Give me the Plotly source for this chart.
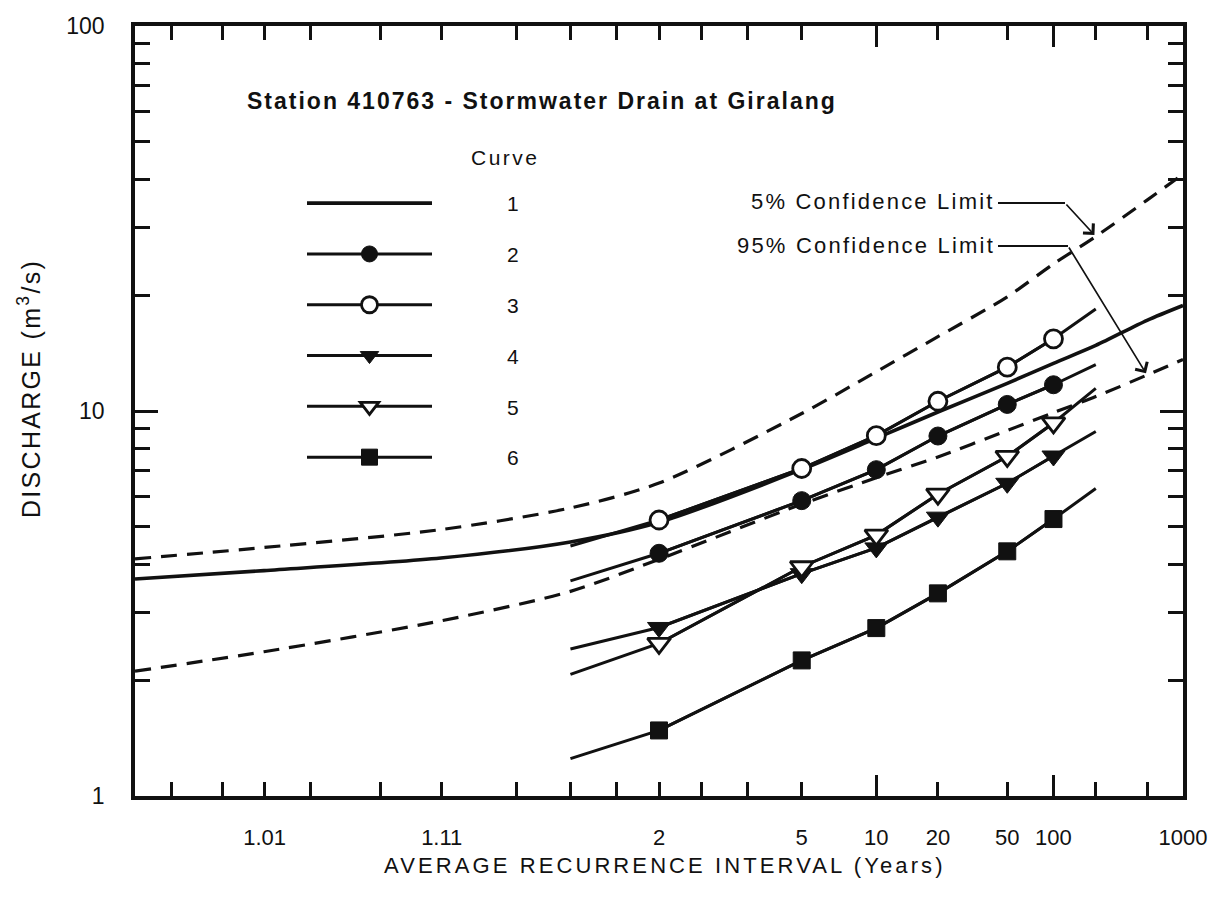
from statistics import NormalDist
import math
import plotly.graph_objects as go

# ---------------------------------------------------------------- data
# Average recurrence intervals (years) at which the fitted curve and its
# confidence limits are given
fit_ari = [1.001, 1.01, 1.11, 1.43, 2, 5, 10, 20, 50, 100, 200, 500, 1000]
curve1 = [3.66, 3.85, 4.15, 4.57, 5.14, 7.05, 8.5, 9.94, 11.8, 13.3, 14.8, 17.2, 18.8]
upper_5pct = [4.13, 4.42, 4.92, 5.6, 6.5, 9.85, 12.65, 15.6, 19.8, 24.1, 28.4, 35.3, 41.2]
lower_95pct = [2.11, 2.37, 2.85, 3.40, 4.12, 5.73, 6.71, 7.6, 8.9, 9.9, 10.9, 12.4, 13.6]

# Curves 2-6: lines run from 1.43 to 200 years, symbols at 2-100 years
est_ari = [1.43, 2, 5, 10, 20, 50, 100, 200]
curve2 = [3.62, 4.27, 5.85, 7.04, 8.61, 10.4, 11.7, 13.2]
curve3 = [4.46, 5.21, 7.09, 8.63, 10.6, 13.0, 15.4, 18.4]
curve4 = [2.41, 2.74, 3.78, 4.41, 5.30, 6.49, 7.64, 8.85]
curve5 = [2.07, 2.49, 3.94, 4.76, 6.08, 7.62, 9.31, 11.45]
curve6 = [1.25, 1.48, 2.25, 2.73, 3.36, 4.32, 5.24, 6.29]

curve_labels = ["1", "2", "3", "4", "5", "6"]

# Probability-scale ticks, given as annual exceedance probabilities
tick_aep = [0.998, 0.995, 0.99, 0.98, 0.95, 0.9, 0.8, 0.7, 0.6, 0.5,
            0.4, 0.3, 0.2, 0.1, 0.05, 0.02, 0.01, 0.005, 0.002, 0.001]
tick_text = ["", "", "1.01", "", "", "1.11", "", "", "", "2",
             "", "", "5", "10", "20", "50", "100", "", "", "1000"]
long_tick_ari = [10, 100]

y_tick_vals = [1, 2, 3, 4, 5, 6, 7, 8, 9, 10, 20, 30, 40, 50, 60, 70, 80, 90, 100]
y_tick_text = ["1", "", "", "", "", "", "", "", "", "10", "", "", "", "", "", "", "", "", "100"]

# ---------------------------------------------------------------- scale
ND = NormalDist()


def z_ari(ari):
    """Normal deviate of the non-exceedance probability 1 - 1/ARI."""
    return ND.inv_cdf(1.0 - 1.0 / ari)


def z_aep(aep):
    return ND.inv_cdf(1.0 - aep)


X_MIN, X_MAX = z_ari(1.001), z_ari(1000)

W, H = 1221, 906
ML, MR, MT, MB = 135, 38, 26, 110
PW, PH = W - ML - MR, H - MT - MB
FONT = "Liberation Sans, Arial, Helvetica, sans-serif"
INK = "#111111"
LW = 3.0


def px_x(z):
    return ML + (z - X_MIN) / (X_MAX - X_MIN) * PW


def px_y(v):
    return MT + (2 - math.log10(v)) / 2 * PH


def paper_x(px):
    return (px - ML) / PW


def paper_y(py):
    return (MT + PH - py) / PH


def spaced(text, sp):
    return f'<span style="letter-spacing:{sp}px">{text}</span>'


fig = go.Figure()

# Confidence limits
for vals in (upper_5pct, lower_95pct):
    fig.add_trace(go.Scatter(
        x=[z_ari(a) for a in fit_ari], y=vals, mode="lines",
        line=dict(color=INK, width=3.2, dash="16px,10px", shape="spline", smoothing=0.8),
        showlegend=False, hoverinfo="skip"))

pad = "\u00a0" * 12

# Curve 1: fitted distribution, no symbols
fig.add_trace(go.Scatter(
    x=[z_ari(a) for a in fit_ari], y=curve1, mode="lines",
    line=dict(color=INK, width=3.6, shape="spline", smoothing=0.8),
    name=pad + curve_labels[0], legendgroup="c1"))

symbols = [
    dict(symbol="circle", size=18, color=INK, line=dict(color=INK, width=1)),
    dict(symbol="circle", size=18, color="white", line=dict(color=INK, width=2.8)),
    dict(symbol="triangle-down", size=20, color=INK, line=dict(color=INK, width=1)),
    dict(symbol="triangle-down", size=20, color="white", line=dict(color=INK, width=2.8)),
    dict(symbol="square", size=17, color=INK, line=dict(color=INK, width=1)),
]
series = [curve2, curve3, curve4, curve5, curve6]

for i, (vals, mk) in enumerate(zip(series, symbols)):
    grp = f"c{i + 2}"
    xs = [z_ari(a) for a in est_ari]
    # full extent of the line
    fig.add_trace(go.Scatter(
        x=xs, y=vals, mode="lines", line=dict(color=INK, width=LW),
        showlegend=False, legendgroup=grp, hoverinfo="skip"))
    # symbols at the estimated recurrence intervals
    fig.add_trace(go.Scatter(
        x=xs[1:-1], y=vals[1:-1], mode="lines+markers",
        line=dict(color=INK, width=LW), marker=mk,
        name=pad + curve_labels[i + 1], legendgroup=grp))

# empty traces carrying the overlay axes used for the longer ticks
fig.add_trace(go.Scatter(x=[], y=[], xaxis="x2", yaxis="y", showlegend=False))
fig.add_trace(go.Scatter(x=[], y=[], xaxis="x", yaxis="y2", showlegend=False))

axis_common = dict(showgrid=False, zeroline=False, ticks="inside",
                   tickcolor=INK, tickwidth=2.8, mirror="ticks")

fig.update_layout(
    width=W, height=H,
    margin=dict(l=ML, r=MR, t=MT, b=MB, autoexpand=False),
    paper_bgcolor="white", plot_bgcolor="white",
    font=dict(family=FONT, color=INK, size=21),
    xaxis=dict(
        range=[X_MIN, X_MAX], tickmode="array",
        tickvals=[z_aep(p) for p in tick_aep], ticktext=tick_text,
        ticklen=14, showline=True, linecolor=INK, linewidth=3.6,
        tickfont=dict(size=22), ticklabelstandoff=19,
        **axis_common),
    xaxis2=dict(
        range=[X_MIN, X_MAX], overlaying="x", anchor="y", side="bottom",
        tickmode="array", tickvals=[z_ari(a) for a in long_tick_ari],
        ticklen=21, showticklabels=False, showline=False, **axis_common),
    yaxis=dict(
        type="log", range=[0, 2], tickmode="array",
        tickvals=y_tick_vals, ticktext=y_tick_text,
        ticklen=15, showline=True, linecolor=INK, linewidth=3.6,
        tickfont=dict(size=23), ticklabelstandoff=22,
        **axis_common),
    yaxis2=dict(
        type="log", range=[0, 2], overlaying="y", anchor="x", side="left",
        tickmode="array", tickvals=[10], ticklen=23,
        showticklabels=False, showline=False, **axis_common),
    legend=dict(
        x=paper_x(302), y=paper_y(183), xanchor="left", yanchor="top",
        bgcolor="rgba(0,0,0,0)", borderwidth=0, itemwidth=125,
        tracegroupgap=20.5, traceorder="grouped",
        font=dict(size=21, family=FONT, color=INK)),
)

# Axis titles
fig.add_annotation(
    xref="paper", yref="paper", x=paper_x(665), y=paper_y(866),
    xanchor="center", yanchor="middle", showarrow=False,
    text=spaced("AVERAGE RECURRENCE INTERVAL (Years)", 3.1), font=dict(size=22))
fig.add_annotation(
    xref="paper", yref="paper", x=paper_x(29), y=paper_y(389),
    xanchor="center", yanchor="middle", showarrow=False, textangle=-90,
    text=spaced("DISCHARGE (m<sup>3</sup>/s)", 2.3), font=dict(size=25))

# Station caption and legend heading
fig.add_annotation(
    xref="paper", yref="paper", x=paper_x(245), y=paper_y(101),
    xanchor="left", yanchor="middle", showarrow=False,
    text="<b>" + spaced("Station 410763 - Stormwater Drain at Giralang", 2.0) + "</b>",
    font=dict(size=23))
fig.add_annotation(
    xref="paper", yref="paper", x=paper_x(505), y=paper_y(157),
    xanchor="center", yanchor="middle", showarrow=False,
    text=spaced("Curve", 2.5), font=dict(size=21))

# Confidence-limit call-outs: label, horizontal leader, then arrow to the curve
callouts = [
    ("5% Confidence Limit", 202, 1065, upper_5pct, 200),
    ("95% Confidence Limit", 245, 1068, lower_95pct, 500),
]
for text, ty, elbow_x, vals, ari in callouts:
    fig.add_annotation(
        xref="paper", yref="paper", x=paper_x(997), y=paper_y(ty),
        xanchor="right", yanchor="middle", showarrow=False,
        text=spaced(text, 2.2), font=dict(size=22))
    fig.add_shape(
        type="line", xref="paper", yref="paper",
        x0=paper_x(998), x1=paper_x(elbow_x), y0=paper_y(ty + 1), y1=paper_y(ty + 1),
        line=dict(color=INK, width=1.9))
    v = vals[fit_ari.index(ari)]
    tip_x, tip_y = px_x(z_ari(ari)), px_y(v)
    fig.add_annotation(
        x=z_ari(ari), y=math.log10(v), xref="x", yref="y", text="",
        showarrow=True, arrowhead=4, arrowsize=1.6, arrowwidth=1.7,
        arrowcolor=INK, ax=elbow_x - tip_x, ay=(ty + 1) - tip_y, standoff=2)

fig.write_html("out.html")
